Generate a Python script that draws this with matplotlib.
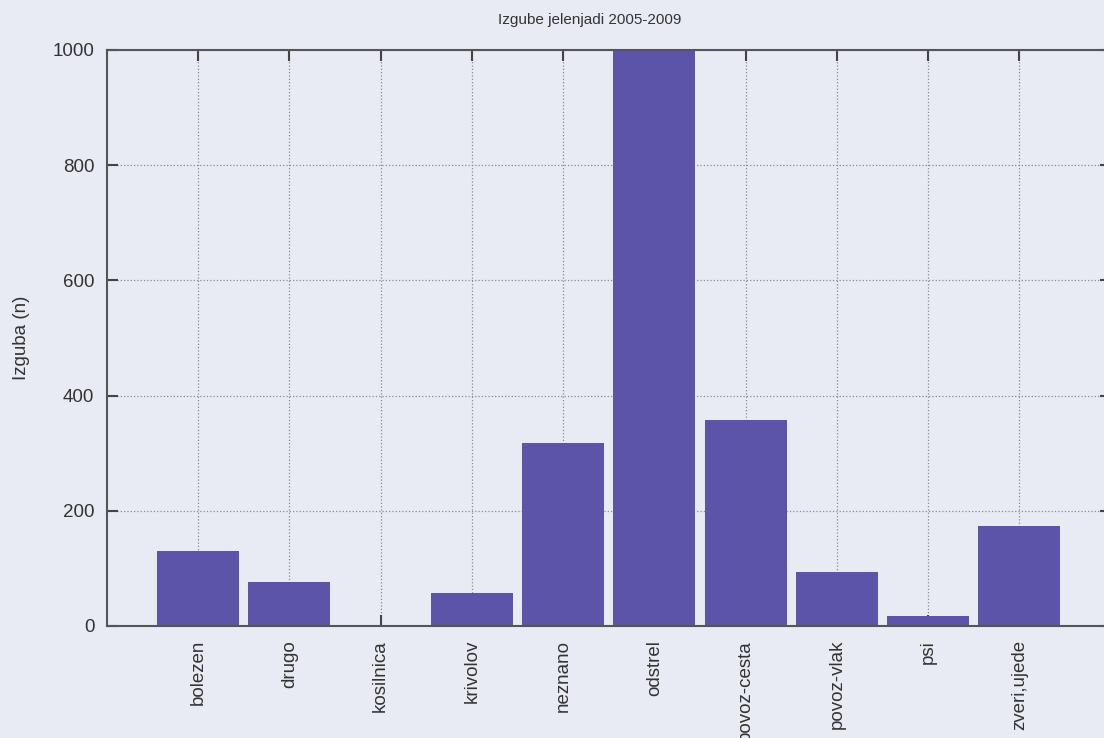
import matplotlib
matplotlib.use("Agg")
from matplotlib import pyplot as plt

categories = ['bolezen', 'drugo', 'kosilnica', 'krivolov', 'neznano',
              'odstrel', 'povoz-cesta', 'povoz-vlak', 'psi', 'zveri,ujede']
losses = [130, 76, 2, 58, 317, 1120, 358, 94, 18, 173]
yticks = [0, 200, 400, 600, 800, 1000]

plt.rcParams['font.family'] = ['Liberation Sans', 'DejaVu Sans']

fig = plt.figure(figsize=(11.04, 7.38), dpi=100)
fig.patch.set_facecolor('#e8ebf3')
ax = fig.add_axes([0.0969, 0.1518, 0.909, 0.7805])
ax.set_facecolor('none')

pos = list(range(len(categories)))
ax.bar(pos, losses, width=0.9, color='#5c54a9', zorder=2)

ax.set_xlim(-1, 10)
ax.set_ylim(0, 1000)
ax.set_xticks(pos)
ax.set_xticklabels(categories, rotation=90, fontsize=13.5, color='#333333')
ax.set_yticks(yticks)
ax.set_yticklabels([str(v) for v in yticks], fontsize=13.5, color='#333333')
ax.tick_params(axis='both', direction='in', length=8, width=1.5, color='#444444',
               top=True, right=True, pad=9)
ax.tick_params(axis='x', pad=10)
ax.grid(True, linestyle=':', color='#8a8a8a', linewidth=0.9, zorder=0)
for s in ax.spines.values():
    s.set_color('#555555')
    s.set_linewidth(1.5)

ax.set_ylabel('Izguba (n)', fontsize=13.5, color='#333333')
ax.yaxis.set_label_coords(-0.077, 0.5)
fig.text(590 / 1104, 1 - 20 / 738, 'Izgube jelenjadi 2005-2009', fontsize=11,
         ha='center', va='center', color='#333333')

plt.savefig('out.png', dpi=100, facecolor=fig.get_facecolor())
